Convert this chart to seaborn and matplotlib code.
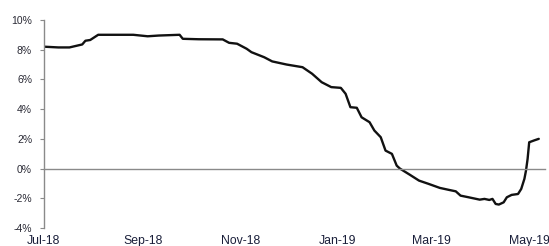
import pandas as pd
import numpy as np
import matplotlib
matplotlib.use("Agg")
import matplotlib.pyplot as plt
import matplotlib.dates as mdates
from matplotlib.ticker import FuncFormatter
import seaborn as sns

# values (percent)
dates = [
    "2018-07-01", "2018-07-10", "2018-07-17", "2018-07-23", "2018-07-25", "2018-07-27",
    "2018-07-30", "2018-08-04", "2018-08-17", "2018-08-26", "2018-09-04", "2018-09-11",
    "2018-09-24", "2018-09-26", "2018-10-06", "2018-10-21", "2018-10-25", "2018-10-30",
    "2018-11-05", "2018-11-08", "2018-11-16", "2018-11-21", "2018-11-30", "2018-12-10",
    "2018-12-16", "2018-12-22", "2018-12-28", "2019-01-03", "2019-01-06", "2019-01-09",
    "2019-01-13", "2019-01-16", "2019-01-21", "2019-01-24", "2019-01-28", "2019-01-31",
    "2019-02-04", "2019-02-07", "2019-02-09", "2019-02-15", "2019-02-21", "2019-02-27",
    "2019-03-06", "2019-03-12", "2019-03-16", "2019-03-19", "2019-03-24", "2019-03-31",
    "2019-04-03", "2019-04-06", "2019-04-08", "2019-04-10", "2019-04-12", "2019-04-15",
    "2019-04-17", "2019-04-20", "2019-04-24", "2019-04-26", "2019-04-28", "2019-04-29",
    "2019-04-30", "2019-05-01", "2019-05-04", "2019-05-07",
]
values = [
    8.2, 8.15, 8.15, 8.3, 8.35, 8.6,
    8.65, 9.0, 9.0, 9.0, 8.9, 8.95,
    9.0, 8.73, 8.7, 8.69, 8.46, 8.40,
    8.06, 7.83, 7.49, 7.21, 7.0, 6.82,
    6.38, 5.81, 5.48, 5.43, 5.03, 4.13,
    4.09, 3.45, 3.12, 2.56, 2.11, 1.21,
    0.99, 0.20, 0.0, -0.40, -0.81, -1.03,
    -1.30, -1.44, -1.53, -1.82, -1.93, -2.09,
    -2.04, -2.11, -2.04, -2.38, -2.42, -2.27,
    -1.93, -1.77, -1.71, -1.37, -0.69, -0.13,
    0.65, 1.77, 1.89, 2.0,
]
tick_dates = ["2018-07-01", "2018-09-01", "2018-11-01", "2019-01-01", "2019-03-01", "2019-05-01"]
y_ticks = [-4, -2, 0, 2, 4, 6, 8, 10]

df = pd.DataFrame({"date": pd.to_datetime(dates), "value": values})

sns.set_style("white")
plt.rcParams["font.family"] = ["Liberation Sans", "DejaVu Sans"]

fig = plt.figure(figsize=(5.49, 2.46), dpi=100)
ax = fig.add_axes([0.080, 0.073, 0.913, 0.846])

sns.lineplot(data=df, x="date", y="value", ax=ax, color="#111111", linewidth=1.7)

ax.set_xlim(pd.Timestamp("2018-07-01"), pd.Timestamp("2019-05-11"))
ax.set_ylim(-4, 10)
ax.set_yticks(y_ticks)
ax.yaxis.set_major_formatter(FuncFormatter(lambda v, p: f"{v:.0f}%"))
ax.set_xlabel("")
ax.set_ylabel("")

# x axis line crosses at zero, labels stay at the bottom
for s in ["top", "right"]:
    ax.spines[s].set_visible(False)
ax.spines["left"].set_color("#8a8a8a")
ax.spines["left"].set_linewidth(1.0)
ax.spines["bottom"].set_position(("data", 0))
ax.spines["bottom"].set_color("#8a8a8a")
ax.spines["bottom"].set_linewidth(1.0)

xt = pd.to_datetime(tick_dates)
ax.set_xticks(xt)
ax.tick_params(axis="x", direction="inout", length=3, color="#8a8a8a", labelbottom=False)
ax.tick_params(axis="y", direction="out", length=3, color="#8a8a8a", left=True,
               labelsize=7.5, labelcolor="#2a2a35", pad=5.5)

sec = ax.secondary_xaxis(0)
sec.set_xticks(xt)
sec.xaxis.set_major_formatter(mdates.DateFormatter("%b-%y"))
sec.spines["bottom"].set_visible(False)
sec.tick_params(axis="x", length=0, labelsize=8.8, labelcolor="#1a1f3a", pad=5)

fig.savefig("out.png", dpi=100)
